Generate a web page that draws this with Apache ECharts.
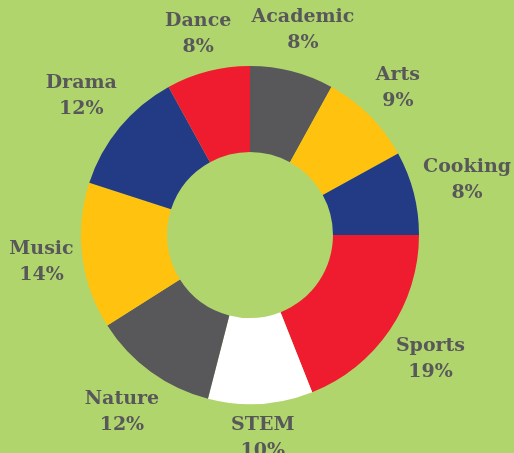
<!DOCTYPE html>
<html>
<head>
<meta charset="utf-8">
<script src="https://cdn.jsdelivr.net/npm/echarts@6/dist/echarts.min.js"></script>
<style>
  html, body { margin: 0; padding: 0; background: #b1d56d; }
  #chart { width: 514px; height: 453px; }
</style>
</head>
<body>
<div id="chart"></div>
<script>
const categories = ["Academic", "Arts", "Cooking", "Sports", "STEM", "Nature", "Music", "Drama", "Dance"];
const shares = [8, 9, 8, 19, 10, 12, 14, 12, 8];
const colors = ["#58585a", "#ffc20e", "#233b84", "#ee1c2e", "#ffffff", "#58585a", "#ffc20e", "#233b84", "#ee1c2e"];

const cx = 250, cy = 235, outerR = 169;
const total = shares.reduce((a, b) => a + b, 0);

// mid angle of each slice, clockwise from 12 o'clock
let acc = 0;
const midAngles = shares.map(v => {
  const mid = (acc + v / 2) / total * Math.PI * 2;
  acc += v;
  return mid;
});

const chart = echarts.init(document.getElementById("chart"));

chart.setOption({
  backgroundColor: "#b1d56d",
  series: [{
    type: "pie",
    center: [cx, cy],
    radius: [83, outerR],
    startAngle: 90,
    clockwise: true,
    silent: true,
    avoidLabelOverlap: false,
    data: categories.map((name, i) => ({
      name: name,
      value: shares[i],
      itemStyle: { color: colors[i] }
    })),
    label: {
      show: true,
      position: "outside",
      alignTo: "none",
      overflow: "none",
      formatter: "{b}\n{c}%",
      fontFamily: "DejaVu Serif",
      fontWeight: "bold",
      fontSize: 19,
      lineHeight: 26,
      color: "#58585a",
      align: "center"
    },
    labelLine: { show: false },
    labelLayout: function (params) {
      const a = midAngles[params.dataIndex];
      const w = params.labelRect.width / 2;
      const h = params.labelRect.height / 2;
      const r = outerR + 6 + w * Math.abs(Math.sin(a)) + h * Math.abs(Math.cos(a));
      return {
        x: cx + r * Math.sin(a),
        y: cy - r * Math.cos(a) + 1,
        align: "center",
        verticalAlign: "middle"
      };
    }
  }]
});
</script>
</body>
</html>
